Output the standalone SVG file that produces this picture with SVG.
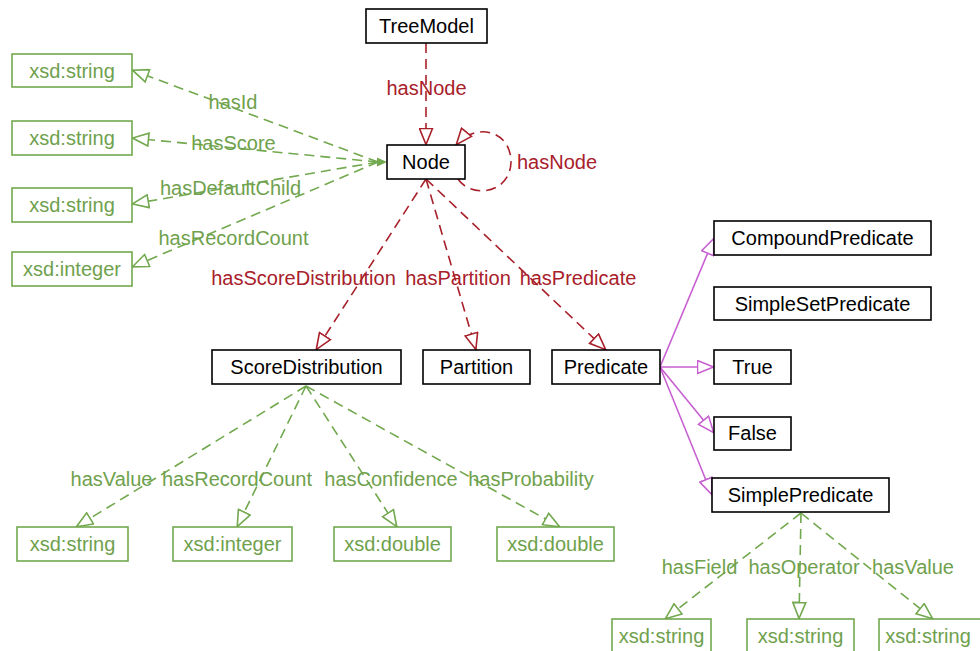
<svg xmlns="http://www.w3.org/2000/svg" width="980" height="651" viewBox="0 0 980 651">
  <defs>
    <style>
      text { font-family: "Liberation Sans", Arial, sans-serif; font-size: 20px; }
      .cls rect { fill: #fff; stroke: #000; stroke-width: 1.6; }
      .cls text { fill: #000; text-anchor: middle; }
      .dt rect { fill: #fff; stroke: #72a84e; stroke-width: 1.6; }
      .dt text { fill: #6fa14d; text-anchor: middle; }
      .obj { fill: none; stroke: #a8202a; stroke-width: 1.6; stroke-dasharray: 10 6; marker-end: url(#triRed); }
      .dat { fill: none; stroke: #72a84e; stroke-width: 1.6; stroke-dasharray: 10 6; marker-end: url(#triGreen); }
      .sub { fill: none; stroke: #c75fd1; stroke-width: 1.6; marker-end: url(#triPurple); }
      .lblRed { fill: #a8202a; text-anchor: middle; }
      .lblGreen { fill: #6fa14d; text-anchor: middle; }
    </style>
    <marker id="triRed" viewBox="0 0 18 15" refX="17.5" refY="7.5" markerWidth="18" markerHeight="15" markerUnits="userSpaceOnUse" orient="auto">
      <path d="M1,1 L17,7.5 L1,14 Z" fill="#fff" stroke="#a8202a" stroke-width="1.6"/>
    </marker>
    <marker id="triGreen" viewBox="0 0 18 15" refX="17.5" refY="7.5" markerWidth="18" markerHeight="15" markerUnits="userSpaceOnUse" orient="auto">
      <path d="M1,1 L17,7.5 L1,14 Z" fill="#fff" stroke="#72a84e" stroke-width="1.6"/>
    </marker>
    <marker id="triPurple" viewBox="0 0 18 15" refX="17.5" refY="7.5" markerWidth="18" markerHeight="15" markerUnits="userSpaceOnUse" orient="auto">
      <path d="M1,1 L17,7.5 L1,14 Z" fill="#fff" stroke="#c75fd1" stroke-width="1.6"/>
    </marker>
  </defs>

  <rect width="980" height="651" fill="#fff"/>

  <!-- connectors -->
  <g id="connectors">
    <!-- object properties -->
    <path class="obj" d="M426 43 L426 145"/>
    <path class="obj" d="M458 179 C470 198, 510 195, 511 162 C511 130, 475 122, 456 145"/>
    <path class="obj" d="M426 179 L316 350"/>
    <path class="obj" d="M426 179 L476 350"/>
    <path class="obj" d="M426 179 L606 350"/>

    <!-- Node datatype properties -->
    <path class="dat" d="M378 162 L132 70"/>
    <path class="dat" d="M378 162 L132 138"/>
    <path class="dat" d="M378 162 L132 204"/>
    <path class="dat" d="M378 162 L132 267"/>
    <polygon points="377,157.5 387,162 377,166.5" fill="#72a84e"/>

    <!-- ScoreDistribution datatype properties -->
    <path class="dat" d="M306 386 L76 527"/>
    <path class="dat" d="M306 386 L237 527"/>
    <path class="dat" d="M306 386 L397 527"/>
    <path class="dat" d="M306 386 L560 527"/>

    <!-- Predicate subclasses -->
    <path class="sub" d="M660 367 L714 238"/>
    <path class="sub" d="M660 367 L714 367"/>
    <path class="sub" d="M660 367 L714 433"/>
    <path class="sub" d="M660 367 L712 495"/>

    <!-- SimplePredicate datatype properties -->
    <path class="dat" d="M801 513 L665 619"/>
    <path class="dat" d="M801 513 L799 619"/>
    <path class="dat" d="M801 513 L933 619"/>

    <!-- labels -->
    <text class="lblRed" x="426.5" y="95">hasNode</text>
    <text x="517" y="169" fill="#a8202a">hasNode</text>
    <text class="lblRed" x="303.5" y="285">hasScoreDistribution</text>
    <text class="lblRed" x="458" y="285">hasPartition</text>
    <text class="lblRed" x="578" y="285">hasPredicate</text>

    <text class="lblGreen" x="233" y="109">hasId</text>
    <text class="lblGreen" x="233.5" y="150">hasScore</text>
    <text class="lblGreen" x="230.5" y="195">hasDefaultChild</text>
    <text class="lblGreen" x="233.5" y="245">hasRecordCount</text>

    <text class="lblGreen" x="111.5" y="486">hasValue</text>
    <text class="lblGreen" x="237" y="486">hasRecordCount</text>
    <text class="lblGreen" x="391" y="486">hasConfidence</text>
    <text class="lblGreen" x="531" y="486">hasProbability</text>

    <text class="lblGreen" x="699.5" y="574">hasField</text>
    <text class="lblGreen" x="804" y="574">hasOperator</text>
    <text class="lblGreen" x="913" y="574">hasValue</text>
  </g>

  <!-- classes -->
  <g id="TreeModel" class="cls"><rect x="366" y="9" width="121" height="34"/><text x="426.5" y="33">TreeModel</text></g>
  <g id="Node" class="cls"><rect x="387" y="145" width="78" height="34"/><text x="426" y="169">Node</text></g>
  <g id="ScoreDistribution" class="cls"><rect x="212" y="350" width="189" height="34"/><text x="306.5" y="374">ScoreDistribution</text></g>
  <g id="Partition" class="cls"><rect x="423" y="350" width="107" height="34"/><text x="476.5" y="374">Partition</text></g>
  <g id="Predicate" class="cls"><rect x="552" y="350" width="108" height="34"/><text x="606" y="374">Predicate</text></g>
  <g id="CompoundPredicate" class="cls"><rect x="714" y="221" width="217" height="34"/><text x="822.5" y="245">CompoundPredicate</text></g>
  <g id="SimpleSetPredicate" class="cls"><rect x="714" y="287" width="217" height="33"/><text x="822.5" y="311">SimpleSetPredicate</text></g>
  <g id="True" class="cls"><rect x="714" y="350" width="77" height="34"/><text x="752.5" y="374">True</text></g>
  <g id="False" class="cls"><rect x="714" y="417" width="77" height="33"/><text x="752.5" y="440">False</text></g>
  <g id="SimplePredicate" class="cls"><rect x="712" y="478" width="177" height="34"/><text x="800.5" y="502">SimplePredicate</text></g>

  <!-- datatypes -->
  <g id="nodeId" class="dt"><rect x="12" y="54" width="120" height="33"/><text x="72" y="78">xsd:string</text></g>
  <g id="nodeScore" class="dt"><rect x="12" y="121" width="120" height="34"/><text x="72" y="145">xsd:string</text></g>
  <g id="nodeDefaultChild" class="dt"><rect x="12" y="188" width="120" height="34"/><text x="72" y="212">xsd:string</text></g>
  <g id="nodeRecordCount" class="dt"><rect x="12" y="252" width="120" height="34"/><text x="72" y="276">xsd:integer</text></g>

  <g id="sdValue" class="dt"><rect x="17" y="527" width="111" height="34"/><text x="72.5" y="551">xsd:string</text></g>
  <g id="sdRecordCount" class="dt"><rect x="173" y="527" width="119" height="34"/><text x="232.5" y="551">xsd:integer</text></g>
  <g id="sdConfidence" class="dt"><rect x="334" y="527" width="117" height="34"/><text x="392.5" y="551">xsd:double</text></g>
  <g id="sdProbability" class="dt"><rect x="497" y="527" width="117" height="34"/><text x="555.5" y="551">xsd:double</text></g>

  <g id="spField" class="dt"><rect x="612" y="619" width="99" height="34"/><text x="661.5" y="643">xsd:string</text></g>
  <g id="spOperator" class="dt"><rect x="747" y="619" width="107" height="34"/><text x="800.5" y="643">xsd:string</text></g>
  <g id="spValue" class="dt"><rect x="879" y="619" width="110" height="34"/><text x="928" y="643">xsd:string</text></g>
</svg>
